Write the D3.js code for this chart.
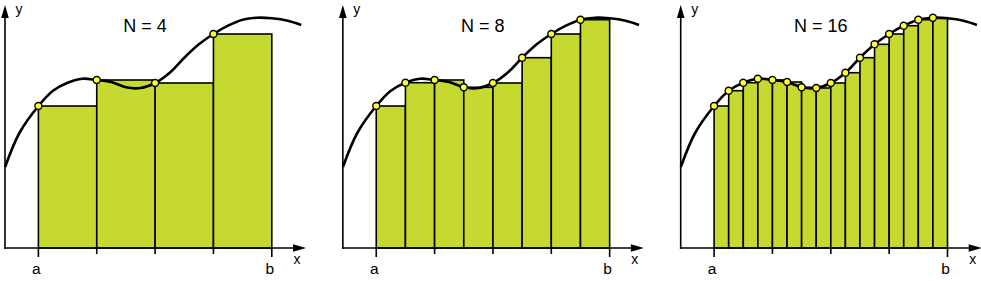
<!DOCTYPE html>
<html><head><meta charset="utf-8">
<script src="https://cdn.jsdelivr.net/npm/d3@7"></script>
<style>body{margin:0;background:#fff}svg{display:block}</style>
</head><body>
<script>
// Curve samples: position t (0 = a, 1 = b) and height above the x axis
const curveT = [-0.1427, -0.0814, 0, 1/16, 2/16, 3/16, 4/16, 5/16, 6/16, 7/16, 8/16, 9/16, 10/16, 11/16, 12/16, 13/16, 14/16, 15/16, 1, 1.0686, 1.126];
const curveH = [81, 115, 142, 157.3, 165.3, 169.3, 168, 166, 160.7, 160, 165, 175.3, 190.3, 203.7, 214, 222.3, 228.3, 230.3, 229.7, 227.3, 223];
// Left-endpoint heights for N = 16 (each rectangle of the coarser sums uses a subset)
const sampleH16 = [142, 157.3, 165.3, 169.3, 168, 166, 160.7, 160, 165, 175.3, 190.3, 203.7, 214, 222.3, 228.3, 230.3];
const panelsN = [4, 8, 16];
const titles = ["N = 4", "N = 8", "N = 16"];
const endLabels = ["a", "b"];
const tickT = [0, 0.25, 0.5, 0.75, 1];

const W = 981, H = 281;
const svg = d3.select("body").append("svg").attr("width", W).attr("height", H);
const font = "'Liberation Sans', Arial, Helvetica, sans-serif";
const fillC = "#c5d930";

panelsN.forEach((N, k) => {
  const ox = 5 + k * 337.85;
  const g = svg.append("g");
  const x = d3.scaleLinear().domain([0, 1]).range([ox + 33.4, ox + 266.8]);
  const y = d3.scaleLinear().domain([0, 240]).range([248, 8]);
  const step = 16 / N;
  const rects = d3.range(N).map(i => ({t0: i / N, t1: (i + 1) / N, h: sampleH16[i * step]}));

  // rectangles
  g.selectAll("rect.bar").data(rects).join("rect")
    .attr("x", d => x(d.t0)).attr("y", d => y(d.h))
    .attr("width", d => x(d.t1) - x(d.t0)).attr("height", d => y(0) - y(d.h))
    .attr("fill", fillC).attr("stroke", "#000").attr("stroke-width", 1.6);

  // axes
  const ax = g.append("g").attr("stroke", "#000").attr("stroke-width", 1.6).attr("fill", "none");
  ax.append("line").attr("x1", ox).attr("x2", ox).attr("y1", y(0) + 0.8).attr("y2", 16);
  ax.append("line").attr("x1", ox - 0.8).attr("x2", ox + 290).attr("y1", y(0)).attr("y2", y(0));
  g.append("path").attr("d", `M${ox},5 L${ox - 3.8},18 L${ox + 3.8},18 Z`).attr("fill", "#000");
  g.append("path").attr("d", `M${ox + 301},${y(0)} L${ox + 288},${y(0) - 3.8} L${ox + 288},${y(0) + 3.8} Z`).attr("fill", "#000");

  // ticks
  g.selectAll("line.tick").data(tickT).join("line")
    .attr("x1", d => x(d)).attr("x2", d => x(d))
    .attr("y1", y(0)).attr("y2", d => (d === 0 || d === 1) ? y(0) + 9 : y(0) + 6)
    .attr("stroke", "#000").attr("stroke-width", 1.6);

  // curve
  const line = d3.line().x(d => x(d[0])).y(d => y(d[1])).curve(d3.curveCatmullRom.alpha(0.5));
  g.append("path").datum(curveT.map((t, i) => [t, curveH[i]]))
    .attr("d", line).attr("fill", "none").attr("stroke", "#000").attr("stroke-width", 2.6);

  // dots
  g.selectAll("circle").data(rects).join("circle")
    .attr("cx", d => x(d.t0)).attr("cy", d => y(d.h)).attr("r", 3.5)
    .attr("fill", "#ffff33").attr("stroke", "#000").attr("stroke-width", 1.4);

  // labels
  g.selectAll("text.end").data(endLabels).join("text")
    .attr("x", (d, i) => x(i) - 2).attr("y", 274).attr("text-anchor", "middle")
    .attr("font-family", font).attr("font-size", 15.5).text(d => d);
  g.append("text").attr("x", ox + 292).attr("y", 264).attr("text-anchor", "middle")
    .attr("font-family", font).attr("font-size", 14).text("x");
  g.append("text").attr("x", ox + 14).attr("y", 14).attr("text-anchor", "middle")
    .attr("font-family", font).attr("font-size", 14).text("y");
  g.append("text").attr("x", ox + 140).attr("y", 31.5).attr("text-anchor", "middle")
    .attr("font-family", font).attr("font-size", 18).text(titles[k]);
});
</script>
</body></html>
